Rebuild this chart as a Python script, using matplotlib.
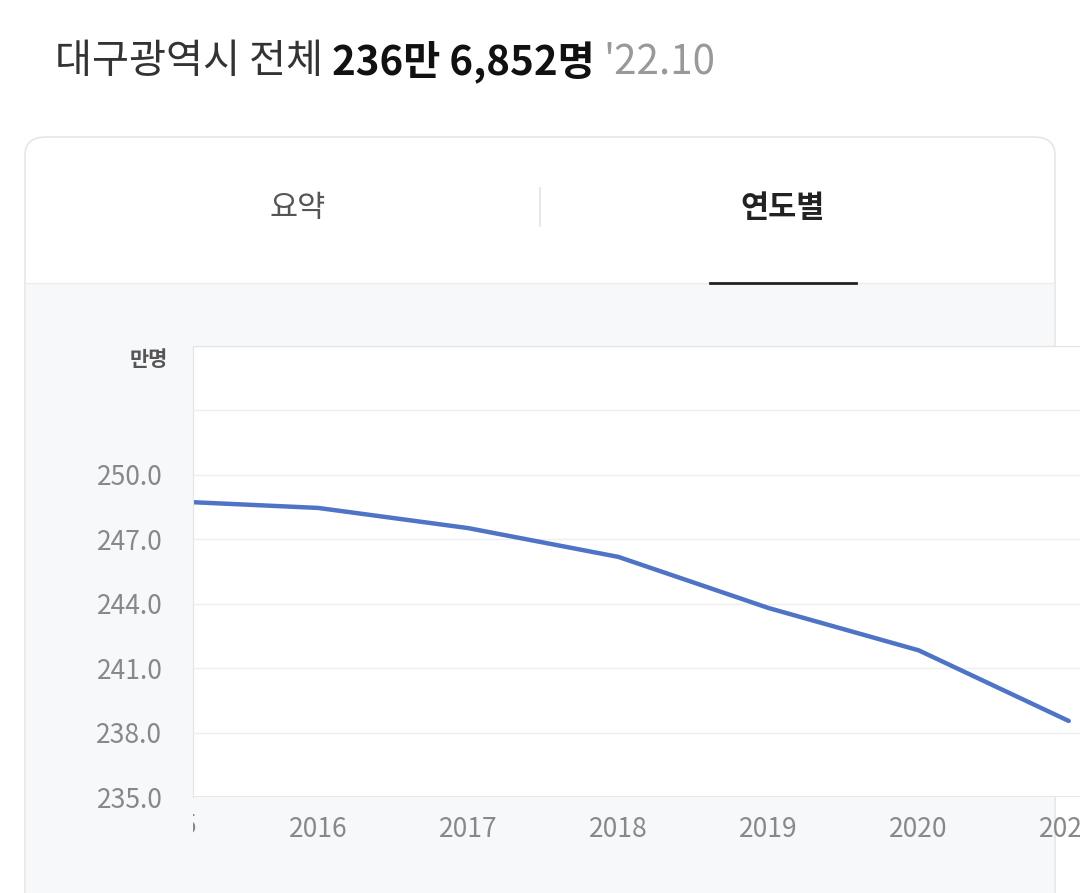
import matplotlib.pyplot as plt
from matplotlib.patches import FancyBboxPatch, Rectangle
from matplotlib.lines import Line2D

plt.rcParams["font.family"] = "sans-serif"
plt.rcParams["font.sans-serif"] = ["Noto Sans CJK KR", "Noto Sans CJK JP", "Noto Sans CJK SC",
                                   "DejaVu Sans"]

YEARS = [2015, 2016, 2017, 2018, 2019, 2020, 2021]
POP = [248.78, 248.46, 247.52, 246.18, 243.80, 241.83, 238.54]  # 만명
Y_TICKS = [235.0, 238.0, 241.0, 244.0, 247.0, 250.0, 253.0, 256.0]
X_TICKS = [2016, 2017, 2018, 2019, 2020, 2021]

W, H = 1080, 893
fig = plt.figure(figsize=(W / 100, H / 100), dpi=100)
fig.patch.set_facecolor("white")


def fx(px):
    return px / W


def fy(py):
    return 1 - py / H


# card (drawn behind the axes)
card = FancyBboxPatch((fx(25), fy(960)), fx(1030), (960 - 137) / H,
                      boxstyle="round,pad=0,rounding_size=0.02",
                      transform=fig.transFigure, facecolor="white",
                      edgecolor="#e6e6e6", linewidth=1.2, zorder=-3)
fig.add_artist(card)
fig.add_artist(Rectangle((fx(26), 0), fx(1028), fy(283), transform=fig.transFigure,
                         facecolor="#f7f8fa", edgecolor="none", zorder=-2))
fig.add_artist(Line2D([fx(26), fx(1054)], [fy(283), fy(283)], transform=fig.transFigure,
                      color="#ececec", lw=1, zorder=-1))
fig.add_artist(Line2D([fx(540), fx(540)], [fy(188), fy(226)], transform=fig.transFigure,
                      color="#e3e3e3", lw=1.2))
fig.add_artist(Line2D([fx(710), fx(856)], [fy(283), fy(283)], transform=fig.transFigure,
                      color="#222222", lw=2))
fig.text(fx(298), fy(208), "요약", ha="center", va="center", fontsize=22, color="#555555")
fig.text(fx(783), fy(208), "연도별", ha="center", va="center", fontsize=22,
         color="#222222", fontweight="bold")

# title, pieces laid out one after another
renderer = fig.canvas.get_renderer()
x = fx(55)
for s, color, weight in [("대구광역시 전체 ", "#333333", "normal"),
                         ("236만 6,852명 ", "#111111", "bold"),
                         ("'22.10", "#999999", "normal")]:
    t = fig.text(x, fy(62), s, ha="left", va="center", fontsize=29,
                 color=color, fontweight=weight)
    bb = t.get_window_extent(renderer)
    x = bb.x1 / W

# plot
ax = fig.add_axes([fx(193), fy(797), fx(W - 193) + 0.01, (797 - 346) / H])
ax.set_zorder(2)
ax.set_facecolor("white")
ax.plot(YEARS, POP, color="#4f74c6", lw=3.2, solid_capstyle="round")
ax.set_xlim(2016 - 125 / 150, 2016 + (W + 10 - 318) / 150)
ax.set_ylim(235, 256)
ax.set_yticks(Y_TICKS)
ax.set_yticklabels([f"{v:.1f}" if v <= 250 else "" for v in Y_TICKS])
ax.set_xticks(X_TICKS)
ax.set_xticklabels([str(y) for y in X_TICKS])
ax.grid(axis="y", color="#eeeeee", lw=1)
ax.tick_params(length=0, labelsize=19, labelcolor="#888888", pad=14)
ax.tick_params(axis="y", pad=22)
for side in ["right", "bottom"]:
    ax.spines[side].set_visible(False)
for side in ["left", "top"]:
    ax.spines[side].set_color("#e4e4e4")
ax.axhline(235, color="#e4e4e4", lw=1.2)

# 2015 label, cut at the axis edge
t15 = ax.text(2015, -0.035, "2015", transform=ax.get_xaxis_transform(), ha="center",
              va="top", fontsize=19, color="#888888")
clip = Rectangle((fx(193), 0), 1, 1, transform=fig.transFigure, facecolor="none")
t15.set_clip_path(clip)
t15.set_clip_on(True)

fig.text(fx(168), fy(360), "만명", ha="right", va="center", fontsize=15,
         color="#555555", fontweight="bold")

fig.savefig("out.png", dpi=100)
